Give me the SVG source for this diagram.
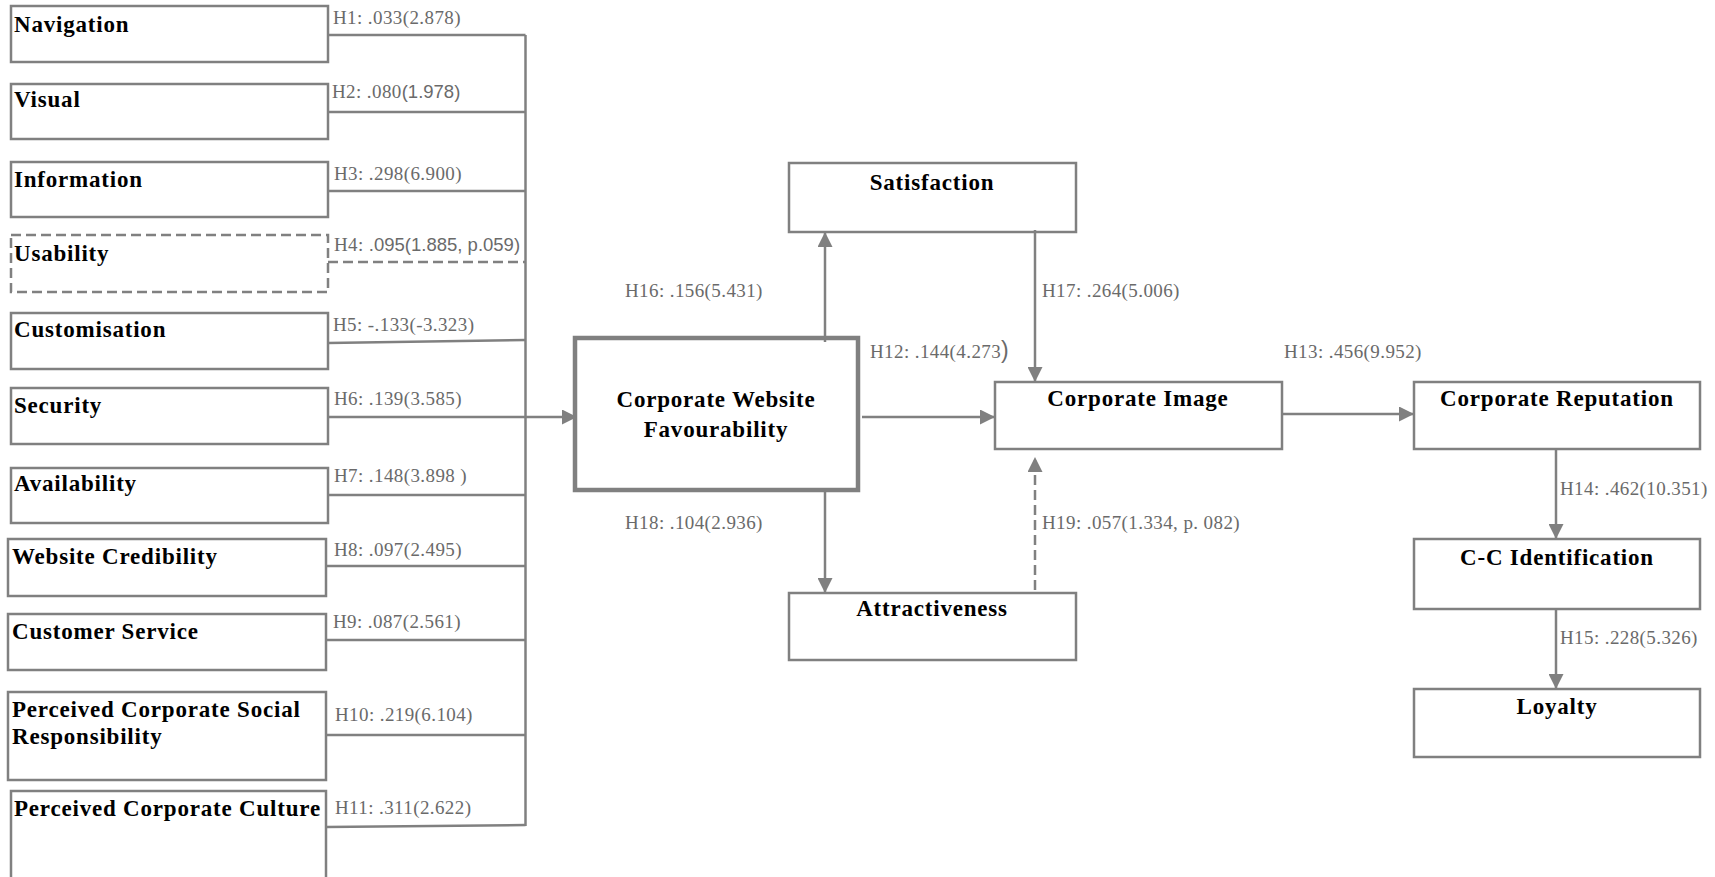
<svg xmlns="http://www.w3.org/2000/svg" width="1715" height="877" viewBox="0 0 1715 877">
  <style>
    .box { fill: #ffffff; stroke: #808080; stroke-width: 2.5; }
    .dash { stroke-dasharray: 10 5; }
    .main { stroke-width: 4.5; }
    .name { font-family: "Liberation Serif", "Times New Roman", serif; font-weight: bold; font-size: 23px; letter-spacing: 0.8px; fill: #000000; }
    .mid { text-anchor: middle; }
    .lbl { font-family: "Liberation Serif", "Times New Roman", serif; font-size: 19px; letter-spacing: 0.4px; fill: #6a6a6a; }
    .sans { font-family: "Liberation Sans", Arial, sans-serif; font-size: 18.5px; letter-spacing: 0; }
    .line { fill: none; stroke: #808080; stroke-width: 2.5; }
    .arrow { marker-end: url(#head); }
  </style>
  <defs>
    <marker id="head" markerUnits="userSpaceOnUse" markerWidth="15" markerHeight="15" refX="15" refY="7.5" orient="auto">
      <path d="M0,0 L15,7.5 L0,15 z" fill="#808080"/>
    </marker>
  </defs>

  <rect width="1715" height="877" fill="#ffffff"/>

  <!-- website attribute nodes -->
  <g id="navigation"><rect class="box" x="11" y="6" width="317" height="56"/><text class="name" x="14" y="32">Navigation</text></g>
  <g id="visual"><rect class="box" x="11" y="84" width="317" height="55"/><text class="name" x="14" y="107">Visual</text></g>
  <g id="information"><rect class="box" x="11" y="162" width="317" height="55"/><text class="name" x="14" y="187">Information</text></g>
  <g id="usability"><rect class="box dash" x="11" y="235" width="317" height="57"/><text class="name" x="14" y="261">Usability</text></g>
  <g id="customisation"><rect class="box" x="11" y="313" width="317" height="56"/><text class="name" x="14" y="337">Customisation</text></g>
  <g id="security"><rect class="box" x="11" y="388" width="317" height="56"/><text class="name" x="14" y="413">Security</text></g>
  <g id="availability"><rect class="box" x="11" y="468" width="317" height="55"/><text class="name" x="14" y="491">Availability</text></g>
  <g id="credibility"><rect class="box" x="8" y="539" width="318" height="57"/><text class="name" x="12" y="564">Website Credibility</text></g>
  <g id="service"><rect class="box" x="8" y="614" width="318" height="56"/><text class="name" x="12" y="639">Customer Service</text></g>
  <g id="csr"><rect class="box" x="8" y="692" width="318" height="88"/><text class="name" x="12" y="717">Perceived Corporate Social</text><text class="name" x="12" y="744">Responsibility</text></g>
  <g id="culture"><rect class="box" x="11" y="791" width="315" height="92"/><text class="name" x="14" y="816">Perceived Corporate Culture</text></g>

  <!-- outcome nodes -->
  <g id="favourability"><rect class="box main" x="575" y="338" width="283" height="152"/><text class="name mid" x="716" y="407">Corporate Website</text><text class="name mid" x="716" y="437">Favourability</text></g>
  <g id="satisfaction"><rect class="box" x="789" y="163" width="287" height="69"/><text class="name mid" x="932" y="190">Satisfaction</text></g>
  <g id="attractiveness"><rect class="box" x="789" y="593" width="287" height="67"/><text class="name mid" x="932" y="616">Attractiveness</text></g>
  <g id="image"><rect class="box" x="995" y="382" width="287" height="67"/><text class="name mid" x="1138" y="406">Corporate Image</text></g>
  <g id="reputation"><rect class="box" x="1414" y="382" width="286" height="67"/><text class="name mid" x="1557" y="406">Corporate Reputation</text></g>
  <g id="identification"><rect class="box" x="1414" y="539" width="286" height="70"/><text class="name mid" x="1557" y="565">C-C Identification</text></g>
  <g id="loyalty"><rect class="box" x="1414" y="689" width="286" height="68"/><text class="name mid" x="1557" y="714">Loyalty</text></g>

  <!-- paths between constructs -->
  <g id="connectors">
    <path class="line" d="M525.5,35 V826"/>
    <path class="line" d="M328,35 H525.5"/>
    <path class="line" d="M328,112 H525.5"/>
    <path class="line" d="M328,191 H525.5"/>
    <path class="line dash" d="M328,262 H525.5"/>
    <path class="line" d="M328,343 L525.5,340"/>
    <path class="line arrow" d="M328,417 H577"/>
    <path class="line" d="M328,495 H525.5"/>
    <path class="line" d="M326,566 H525.5"/>
    <path class="line" d="M326,640 H525.5"/>
    <path class="line" d="M326,735 H525.5"/>
    <path class="line" d="M326,827 L525.5,825"/>

    <path class="line arrow" d="M825,342 V232"/>
    <path class="line arrow" d="M825,488 V593"/>
    <path class="line arrow" d="M862,417 H995"/>
    <path class="line arrow" d="M1035,230 V382"/>
    <path class="line arrow dash" d="M1035,590 V457"/>
    <path class="line arrow" d="M1282,414 H1414"/>
    <path class="line arrow" d="M1556,449 V539"/>
    <path class="line arrow" d="M1556,609 V689"/>
  </g>

  <!-- path coefficients (t-values) -->
  <g id="coefficients">
    <text class="lbl" x="333" y="24">H1: .033(2.878)</text>
    <text class="lbl" x="332" y="98">H2: .080<tspan class="sans">(1.978)</tspan></text>
    <text class="lbl" x="334" y="180">H3: .298(6.900)</text>
    <text class="lbl" x="334" y="251">H4: <tspan class="sans">.095(1.885, p.059)</tspan></text>
    <text class="lbl" x="333" y="331">H5: -.133(-3.323)</text>
    <text class="lbl" x="334" y="405">H6: .139(3.585)</text>
    <text class="lbl" x="334" y="482">H7: .148(3.898 )</text>
    <text class="lbl" x="334" y="556">H8: .097(2.495)</text>
    <text class="lbl" x="333" y="628">H9: .087(2.561)</text>
    <text class="lbl" x="335" y="721">H10: .219(6.104)</text>
    <text class="lbl" x="335" y="814">H11: .311(2.622)</text>
    <text class="lbl" x="625" y="297">H16: .156(5.431)</text>
    <text class="lbl" x="625" y="529">H18: .104(2.936)</text>
    <text class="lbl" x="870" y="358">H12: .144(4.273<tspan font-family="Liberation Sans, Arial, sans-serif" font-size="23">)</tspan></text>
    <text class="lbl" x="1042" y="297">H17: .264(5.006)</text>
    <text class="lbl" x="1042" y="529">H19: .057(1.334, p. 082)</text>
    <text class="lbl" x="1284" y="358">H13: .456(9.952)</text>
    <text class="lbl" x="1560" y="495">H14: .462(10.351)</text>
    <text class="lbl" x="1560" y="644">H15: .228(5.326)</text>
  </g>
</svg>
